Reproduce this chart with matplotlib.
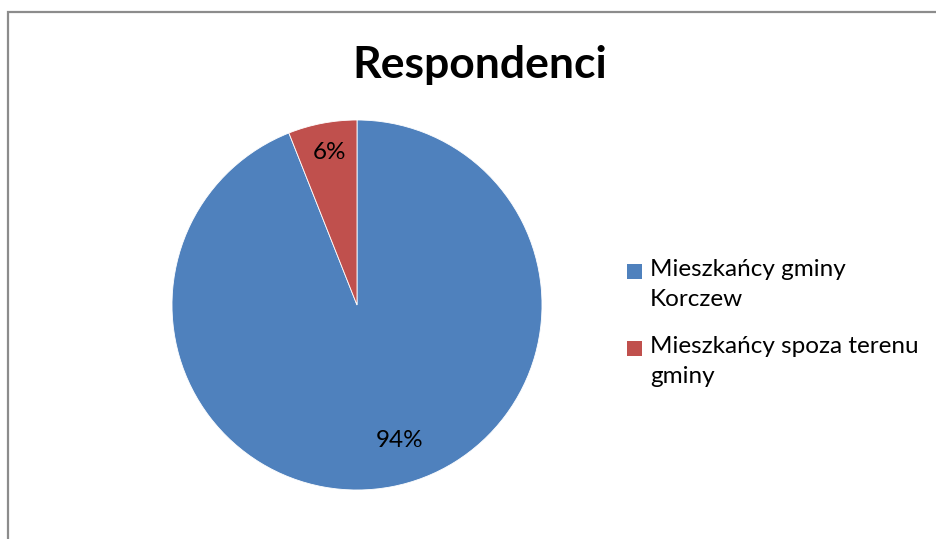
import matplotlib
matplotlib.use("Agg")
import matplotlib.pyplot as plt
from matplotlib.patches import Rectangle
from matplotlib.legend_handler import HandlerPatch

categories = ["Mieszkańcy gminy\nKorczew", "Mieszkańcy spoza terenu\ngminy"]
values = [94, 6]
labels = ["94%", "6%"]
colors = ["#4F81BD", "#C0504D"]
title = "Respondenci"

plt.rcParams['font.family'] = ['Lato', 'DejaVu Sans']

W, H = 936, 539
fig = plt.figure(figsize=(W/100, H/100), dpi=100)
fig.patch.set_facecolor("white")

# outer frame
fig.add_artist(Rectangle((8/W, -0.05), 1.0, (H-12)/H + 0.05, transform=fig.transFigure,
                         fill=False, edgecolor="#8C8C8C", linewidth=1.6))

cx, cy, r = 357, 305, 185
ax = fig.add_axes([(cx-r)/W, (H-cy-r)/H, 2*r/W, 2*r/H])
wedges, texts = ax.pie(values, colors=colors, startangle=90, counterclock=False,
                       wedgeprops=dict(edgecolor="white", linewidth=0.6))
ax.set_xlim(-1, 1); ax.set_ylim(-1, 1)
ax.set_aspect("equal")
ax.axis("off")

# data labels
ax.text(0.232, -0.73, labels[0], ha="center", va="center", fontsize=17.5, color="black")
ax.text(-0.15, 0.827, labels[1], ha="center", va="center", fontsize=17.5, color="black")

fig.text(480/W, 1 - 65/H, title, ha="center", va="center", fontsize=32, fontweight="bold")

def top_square(legend, orig_handle, xdescent, ydescent, width, height, fontsize):
    return Rectangle((-xdescent, -ydescent + 9.5), width, height)

handler = HandlerPatch(patch_func=top_square)
leg = fig.legend(wedges, categories, loc="upper left", bbox_to_anchor=(627/W, 1 - 259/H),
                 frameon=False, fontsize=17.5, handlelength=0.6, handleheight=0.6,
                 handletextpad=0.35, labelspacing=1.05, borderaxespad=0, borderpad=0,
                 handler_map={w: handler for w in wedges})
for t in leg.get_texts():
    t.set_linespacing(1.55)
for h in leg.legend_handles:
    h.set_edgecolor("none")

fig.savefig("out.png", dpi=100)
